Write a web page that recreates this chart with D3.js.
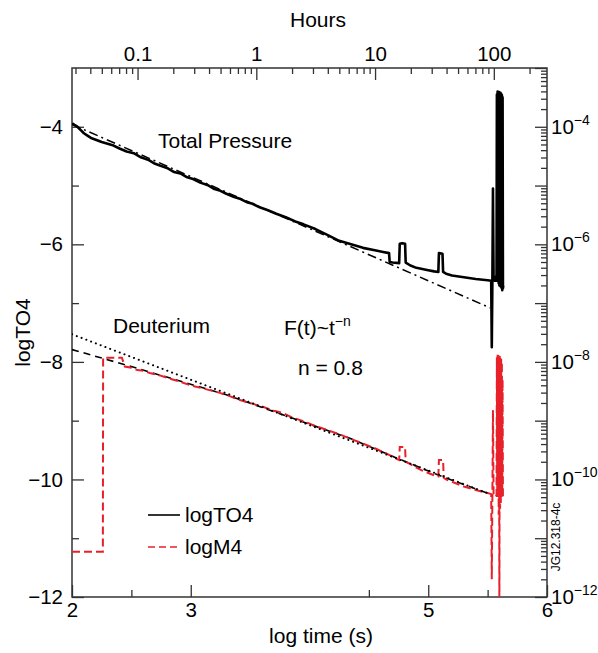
<!DOCTYPE html>
<html><head><meta charset="utf-8">
<script src="https://cdn.jsdelivr.net/npm/d3@7"></script>
<style>
html,body{margin:0;padding:0;background:#fff;}
text{font-family:"Liberation Sans",Arial,Helvetica,sans-serif;fill:#000;}
</style></head>
<body><svg id="chart" width="598" height="653"></svg>
<script>
// ---------- data ----------
const xDomain = [2, 6];
const yDomain = [-12, -3];
const bottomTickLabels = [2, 3, 5, 6];
const bottomMinorTicks = [2.5, 4.5, 5.5];
const leftMajorTicks = [-12, -10, -8, -6, -4];
const leftMinorTicks = [-11, -9, -7, -5];
const rightDecadeTicks = [-12, -11, -10, -9, -8, -7, -6, -5, -4, -3];
const rightLabelTicks = [-12, -10, -8, -6, -4];
const hourMajor = [0.1, 1, 10, 100];
const hourMinor = [0.03,0.04,0.05,0.06,0.07,0.08,0.09,0.2,0.3,0.4,0.5,0.6,0.7,0.8,0.9,2,3,4,5,6,7,8,9,20,30,40,50,60,70,80,90,200];

// logTO4 (total pressure)
const pressureT = [2.00,2.01,2.02,2.04,2.06,2.08,2.10,2.13,2.16,2.20,2.25,2.30,2.35,2.40,2.46,2.52,2.58,2.64,2.70,2.74,2.80,2.86,2.92,2.97,3.02,3.08,3.14,3.20,3.25,3.30,3.36,3.42,3.48,3.52,3.58,3.65,3.72,3.80,3.88,3.95,4.05,4.15,4.25,4.35,4.45,4.55,4.62,4.67,4.675,4.70,4.755,4.76,4.78,4.805,4.81,4.85,4.90,4.95,5.00,5.05,5.085,5.09,5.12,5.125,5.15,5.20,5.30,5.40,5.50,5.53,5.535,5.54,5.545,5.55,5.56,5.57,5.575,5.578,5.581,5.584,5.587,5.590,5.593,5.596,5.599,5.602,5.605,5.608,5.611,5.614,5.617,5.620,5.623,5.626,5.629,5.632];
const pressureV = [-3.96,-3.95,-3.97,-3.99,-4.03,-4.07,-4.11,-4.15,-4.19,-4.22,-4.26,-4.29,-4.32,-4.37,-4.42,-4.45,-4.52,-4.56,-4.63,-4.66,-4.70,-4.77,-4.80,-4.86,-4.89,-4.95,-4.99,-5.06,-5.09,-5.14,-5.19,-5.23,-5.29,-5.31,-5.37,-5.42,-5.48,-5.54,-5.61,-5.66,-5.74,-5.84,-5.94,-6.00,-6.06,-6.10,-6.13,-6.15,-6.30,-6.31,-6.32,-5.99,-5.98,-5.99,-6.31,-6.36,-6.40,-6.42,-6.44,-6.46,-6.47,-6.15,-6.16,-6.47,-6.50,-6.53,-6.56,-6.59,-6.61,-6.62,-7.75,-6.63,-5.05,-6.57,-6.62,-6.55,-6.62,-3.45,-6.55,-3.40,-6.60,-3.42,-6.66,-3.41,-6.70,-3.43,-6.68,-3.42,-6.72,-3.44,-6.74,-3.46,-6.78,-3.50,-6.75,-6.70];

// logM4 (deuterium)
const deutT = [2.00,2.26,2.262,2.42,2.445,2.50,2.55,2.60,2.655,2.70,2.74,2.80,2.90,3.00,3.10,3.216,3.30,3.40,3.50,3.60,3.70,3.776,3.86,3.95,4.05,4.15,4.25,4.336,4.45,4.55,4.65,4.742,4.755,4.76,4.805,4.81,4.85,4.90,4.95,5.00,5.05,5.085,5.09,5.125,5.13,5.15,5.20,5.30,5.40,5.50,5.53,5.535,5.54,5.545,5.55,5.56,5.57,5.575,5.578,5.581,5.584,5.587,5.590,5.593,5.596,5.599,5.602,5.605,5.608,5.611,5.614,5.617,5.620,5.623,5.626,5.629];
const deutV = [-11.23,-11.23,-7.93,-7.93,-8.08,-8.10,-8.14,-8.15,-8.19,-8.21,-8.23,-8.27,-8.33,-8.40,-8.45,-8.51,-8.56,-8.64,-8.70,-8.76,-8.83,-8.87,-8.95,-9.01,-9.09,-9.16,-9.23,-9.30,-9.39,-9.47,-9.56,-9.66,-9.67,-9.45,-9.45,-9.70,-9.74,-9.80,-9.85,-9.89,-9.93,-9.95,-9.67,-9.67,-9.97,-10.00,-10.04,-10.12,-10.18,-10.23,-10.25,-11.70,-10.30,-8.82,-10.25,-10.30,-10.28,-10.28,-7.92,-10.30,-7.88,-10.20,-7.87,-10.60,-7.90,-12.30,-7.90,-10.50,-7.93,-10.40,-7.95,-10.30,-8.00,-10.20,-8.30,-10.30];

// power-law fits F(t) ~ t^-n
const fitPressureT = [2.00, 5.52];
const fitPressureV = [-3.96, -7.08];
const fitDeutDottedT = [2.00, 5.52];
const fitDeutDottedV = [-7.53, -10.25];
const fitDeutDashedT = [2.00, 2.45, 2.75, 3.30, 3.86, 4.34, 4.74, 5.09, 5.52];
const fitDeutDashedV = [-7.79, -8.05, -8.23, -8.56, -8.96, -9.30, -9.64, -9.93, -10.25];

// ---------- chart ----------
const L = 72, R = 547, T = 68, B = 597;
const svg = d3.select("#chart");
const x = d3.scaleLinear().domain(xDomain).range([L, R]);
const y = d3.scaleLinear().domain(yDomain).range([B, T]);
const hx = h => x(Math.log10(h * 3600));
const axisColor = "#333";
const FS = 20.5;

svg.append("defs").append("clipPath").attr("id", "clip")
  .append("rect").attr("x", L).attr("y", T).attr("width", R - L).attr("height", B - T);

function styleAxis(g) {
  g.select(".domain").remove();
  g.selectAll(".tick line").attr("stroke", axisColor).attr("stroke-width", 1.3);
  g.selectAll(".tick text").attr("font-size", FS).attr("fill", "#000")
    .style("font-family", "Liberation Sans, Arial, sans-serif");
}

// bottom
svg.append("g").attr("transform", `translate(0,${B})`)
  .call(d3.axisBottom(x).tickValues(bottomTickLabels).tickSize(-12).tickPadding(5).tickFormat(d3.format("d")))
  .call(styleAxis);
svg.append("g").attr("transform", `translate(0,${B})`)
  .call(d3.axisBottom(x).tickValues(bottomMinorTicks).tickSize(-7).tickFormat(""))
  .call(styleAxis);
// left
svg.append("g").attr("transform", `translate(${L},0)`)
  .call(d3.axisLeft(y).tickValues(leftMajorTicks).tickSize(-12).tickPadding(9).tickFormat(d3.format("d")))
  .call(styleAxis);
svg.append("g").attr("transform", `translate(${L},0)`)
  .call(d3.axisLeft(y).tickValues(leftMinorTicks).tickSize(-7).tickFormat(""))
  .call(styleAxis);
// right
const rightMinor = [];
for (let d = -12; d < -3; d++) for (let k = 2; k <= 9; k++) rightMinor.push(d + Math.log10(k));
svg.append("g").attr("transform", `translate(${R},0)`)
  .call(d3.axisRight(y).tickValues(rightDecadeTicks).tickSize(-12).tickFormat(""))
  .call(styleAxis);
svg.append("g").attr("transform", `translate(${R},0)`)
  .call(d3.axisRight(y).tickValues(rightMinor).tickSize(-6).tickFormat(""))
  .call(styleAxis);
const rl = svg.append("g").selectAll("text").data(rightLabelTicks).join("text")
  .attr("x", R + 4).attr("y", d => y(d) + 7).attr("font-size", FS);
rl.append("tspan").text("10");
rl.append("tspan").attr("font-size", 14).attr("dy", -9).text(d => "\u2212" + Math.abs(d));
// top (hours)
const topG = svg.append("g");
topG.selectAll("line.maj").data(hourMajor).join("line").attr("class", "maj")
  .attr("x1", hx).attr("x2", hx).attr("y1", T).attr("y2", T + 12)
  .attr("stroke", axisColor).attr("stroke-width", 1.3);
topG.selectAll("line.min").data(hourMinor).join("line").attr("class", "min")
  .attr("x1", hx).attr("x2", hx).attr("y1", T).attr("y2", T + 6)
  .attr("stroke", axisColor).attr("stroke-width", 1.3);
topG.selectAll("text").data(hourMajor).join("text")
  .attr("x", hx).attr("y", T - 7).attr("text-anchor", "middle").attr("font-size", FS)
  .text(d => String(d));

// frame
svg.append("rect").attr("x", L).attr("y", T).attr("width", R - L).attr("height", B - T)
  .attr("fill", "none").attr("stroke", axisColor).attr("stroke-width", 1.5);

// titles
svg.append("text").attr("x", 318).attr("y", 27).attr("text-anchor", "middle").attr("font-size", 21).text("Hours");
svg.append("text").attr("x", 321).attr("y", 643).attr("text-anchor", "middle").attr("font-size", 21).text("log time (s)");
svg.append("text").attr("transform", `translate(30,${(T + B) / 2}) rotate(-90)`)
  .attr("text-anchor", "middle").attr("font-size", 21).text("logTO4");
svg.append("text").attr("transform", "translate(560,537) rotate(-90)")
  .attr("text-anchor", "middle").attr("font-size", 12).text("JG12.318-4c");

// annotations
svg.append("text").attr("x", 158).attr("y", 148).attr("font-size", 21).text("Total Pressure");
svg.append("text").attr("x", 113).attr("y", 333).attr("font-size", 21).text("Deuterium");
const ft = svg.append("text").attr("x", 284).attr("y", 335).attr("font-size", 21);
ft.append("tspan").text("F(t)~t");
ft.append("tspan").attr("font-size", 14).attr("dy", -9).text("\u2212n");
svg.append("text").attr("x", 298).attr("y", 375).attr("font-size", 21).text("n = 0.8");

// lines
const line = d3.line().x(d => x(d[0])).y(d => y(d[1]));
const zip = (a, b) => a.map((v, i) => [v, b[i]]);
const plot = svg.append("g").attr("clip-path", "url(#clip)");

plot.append("path").datum(zip(fitDeutDashedT, fitDeutDashedV)).attr("d", line)
  .attr("fill", "none").attr("stroke", "#000").attr("stroke-width", 1.6).attr("stroke-dasharray", "7,5");
plot.append("path").datum(zip(deutT, deutV)).attr("d", line)
  .attr("fill", "none").attr("stroke", "#e8202a").attr("stroke-width", 2).attr("stroke-dasharray", "8,4");
plot.append("path").datum(zip(fitDeutDottedT, fitDeutDottedV)).attr("d", line)
  .attr("fill", "none").attr("stroke", "#000").attr("stroke-width", 2)
  .attr("stroke-dasharray", "0.1,5").attr("stroke-linecap", "round");
plot.append("path").datum(zip(fitPressureT, fitPressureV)).attr("d", line)
  .attr("fill", "none").attr("stroke", "#000").attr("stroke-width", 1.5).attr("stroke-dasharray", "9,4,2,4");
plot.append("path").datum(zip(pressureT, pressureV)).attr("d", line)
  .attr("fill", "none").attr("stroke", "#000").attr("stroke-width", 2.6).attr("stroke-linejoin", "round");

// legend
const lg = svg.append("g");
lg.append("line").attr("x1", 148).attr("x2", 180).attr("y1", 515).attr("y2", 515).attr("stroke", "#000").attr("stroke-width", 1.6);
lg.append("text").attr("x", 185).attr("y", 522).attr("font-size", 21).text("logTO4");
lg.append("line").attr("x1", 148).attr("x2", 180).attr("y1", 547).attr("y2", 547).attr("stroke", "#e8202a").attr("stroke-width", 1.6).attr("stroke-dasharray", "7,4");
lg.append("text").attr("x", 185).attr("y", 554).attr("font-size", 21).text("logM4");
</script></body></html>
